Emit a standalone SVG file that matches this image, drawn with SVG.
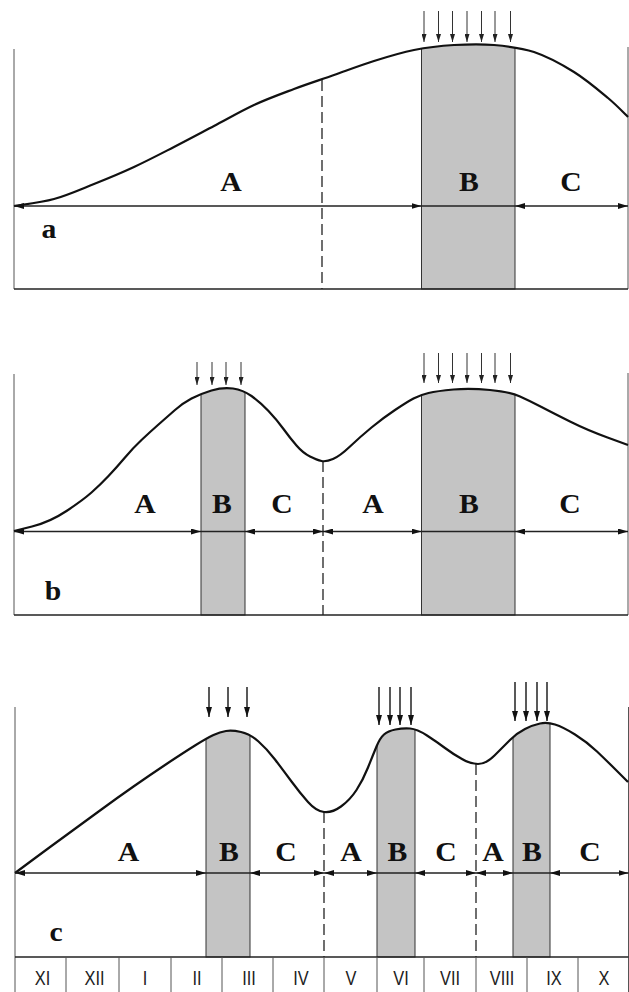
<svg xmlns="http://www.w3.org/2000/svg" width="629" height="992" viewBox="0 0 629 992">
<style>
.curve{fill:none;stroke:#111;stroke-width:2.2}
.frame{stroke:#555;stroke-width:1;fill:none}
.base{stroke:#222;stroke-width:1.5;fill:none}
.band{fill:#c4c4c4;stroke:#333;stroke-width:1}
.dash{stroke:#222;stroke-width:1.3;stroke-dasharray:11 5;fill:none}
.harr{stroke:#222;stroke-width:1.3;fill:none;marker-start:url(#ah);marker-end:url(#ah)}
.hline{stroke:#222;stroke-width:1.3;fill:none}
.darr{stroke:#333;stroke-width:1;fill:none;marker-end:url(#dh)}
.darr2{stroke:#222;stroke-width:1.5;fill:none;marker-end:url(#dh2)}
.lab{font-family:"Liberation Serif","Times New Roman",serif;font-weight:bold;font-size:27px;fill:#111;text-anchor:middle}
.mon{font-family:"Liberation Sans",Arial,sans-serif;font-size:21px;fill:#222;text-anchor:middle}
</style>
<defs>
<marker id="ah" viewBox="0 0 10 6" refX="10" refY="3" markerWidth="10" markerHeight="6" markerUnits="userSpaceOnUse" orient="auto-start-reverse"><path d="M0,0 L10,3 L0,6 Z" fill="#111"/></marker>
<marker id="dh" viewBox="0 0 8 5" refX="8" refY="2.5" markerWidth="8" markerHeight="5" markerUnits="userSpaceOnUse" orient="auto"><path d="M0,0 L8,2.5 L0,5 Z" fill="#222"/></marker>
<marker id="dh2" viewBox="0 0 10 6" refX="10" refY="3" markerWidth="10" markerHeight="6" markerUnits="userSpaceOnUse" orient="auto"><path d="M0,0 L10,3 L0,6 Z" fill="#111"/></marker>
<path id="cA" d="M14,206 C20.7,204.8 40.7,202.7 54,199 C67.3,195.3 80.7,189.3 94,184 C107.3,178.7 120.7,173.2 134,167 C147.3,160.8 160.7,153.8 174,147 C187.3,140.2 200.7,133 214,126 C227.3,119 240.7,111.2 254,105 C267.3,98.8 280.7,94 294,89 C307.3,84 320.7,79.7 334,75 C347.3,70.3 360.7,65.2 374,61 C387.3,56.8 400.7,52.7 414,50 C427.3,47.3 440.7,45.8 454,45 C467.3,44.2 480.7,43.8 494,45 C507.3,46.2 520.7,47.5 534,52 C547.3,56.5 561.7,64.3 574,72 C586.3,79.7 599,90.5 608,98 C617,105.5 624.7,113.8 628,117"/>
<path id="cB" d="M14,531 L32,526.5 Q50,522 66.5,511 Q83,500 91.5,492.5 Q100,485 108.5,476 Q117,467 125,457.5 Q133,448 141.5,440 Q150,432 158.5,424.5 Q167,417 175,410 Q183,403 191.5,398.5 Q200,394 211.5,390.5 Q223,387 233,388.5 Q243,390 251.5,396 Q260,402 268.5,411 Q277,420 283.5,429 Q290,438 296.5,445.5 Q303,453 310,456.5 Q317,460 321.5,461 Q326,462 333,459 Q340,456 350,446.5 Q360,437 371.5,427.5 Q383,418 395,410 Q407,402 413.5,398.5 Q420,395 428.5,393 Q437,391 453.5,389.5 Q470,388 490,390 Q510,392 520,396.5 Q530,401 541.5,407 Q553,413 570,421.5 Q587,430 607.5,437.5 L628,445"/>
<path id="cC" d="M15,873 L32.5,860 Q50,847 66.5,835 Q83,823 100,810.5 Q117,798 133.5,786.5 Q150,775 166.5,764 Q183,753 195,745.5 Q207,738 213.5,735 Q220,732 226,731 Q232,730 241,732 Q250,734 258.5,741.5 Q267,749 275,759.5 Q283,770 291.5,781.5 Q300,793 308,802 Q316,811 324,812 Q332,813 341,806.5 Q350,800 356.5,790 Q363,780 368,767.5 Q373,755 376.5,746.5 Q380,738 384,734.5 Q388,731 395.5,729.5 Q403,728 410,728.5 Q417,729 427,735.5 Q437,742 445,748 Q453,754 462,759 Q470,764 478,764 Q486,764 494.5,755.5 Q503,747 510,740 Q517,733 525,729 Q533,725 540,723.5 Q547,722 555,724.5 Q563,727 575,734.5 Q587,742 597,751.5 Q607,761 617.5,771.5 L628,782"/>
<clipPath id="clipA"><path d="M14,206 C20.7,204.8 40.7,202.7 54,199 C67.3,195.3 80.7,189.3 94,184 C107.3,178.7 120.7,173.2 134,167 C147.3,160.8 160.7,153.8 174,147 C187.3,140.2 200.7,133 214,126 C227.3,119 240.7,111.2 254,105 C267.3,98.8 280.7,94 294,89 C307.3,84 320.7,79.7 334,75 C347.3,70.3 360.7,65.2 374,61 C387.3,56.8 400.7,52.7 414,50 C427.3,47.3 440.7,45.8 454,45 C467.3,44.2 480.7,43.8 494,45 C507.3,46.2 520.7,47.5 534,52 C547.3,56.5 561.7,64.3 574,72 C586.3,79.7 599,90.5 608,98 C617,105.5 624.7,113.8 628,117 L628,300 L14,300 Z"/></clipPath>
<clipPath id="clipB"><path d="M14,531 L32,526.5 Q50,522 66.5,511 Q83,500 91.5,492.5 Q100,485 108.5,476 Q117,467 125,457.5 Q133,448 141.5,440 Q150,432 158.5,424.5 Q167,417 175,410 Q183,403 191.5,398.5 Q200,394 211.5,390.5 Q223,387 233,388.5 Q243,390 251.5,396 Q260,402 268.5,411 Q277,420 283.5,429 Q290,438 296.5,445.5 Q303,453 310,456.5 Q317,460 321.5,461 Q326,462 333,459 Q340,456 350,446.5 Q360,437 371.5,427.5 Q383,418 395,410 Q407,402 413.5,398.5 Q420,395 428.5,393 Q437,391 453.5,389.5 Q470,388 490,390 Q510,392 520,396.5 Q530,401 541.5,407 Q553,413 570,421.5 Q587,430 607.5,437.5 L628,445 L628,620 L14,620 Z"/></clipPath>
<clipPath id="clipC"><path d="M15,873 L32.5,860 Q50,847 66.5,835 Q83,823 100,810.5 Q117,798 133.5,786.5 Q150,775 166.5,764 Q183,753 195,745.5 Q207,738 213.5,735 Q220,732 226,731 Q232,730 241,732 Q250,734 258.5,741.5 Q267,749 275,759.5 Q283,770 291.5,781.5 Q300,793 308,802 Q316,811 324,812 Q332,813 341,806.5 Q350,800 356.5,790 Q363,780 368,767.5 Q373,755 376.5,746.5 Q380,738 384,734.5 Q388,731 395.5,729.5 Q403,728 410,728.5 Q417,729 427,735.5 Q437,742 445,748 Q453,754 462,759 Q470,764 478,764 Q486,764 494.5,755.5 Q503,747 510,740 Q517,733 525,729 Q533,725 540,723.5 Q547,722 555,724.5 Q563,727 575,734.5 Q587,742 597,751.5 Q607,761 617.5,771.5 L628,782 L628,960 L15,960 Z"/></clipPath>
</defs>

<g id="panel-a">
<g clip-path="url(#clipA)"><rect class="band" x="421.5" y="30" width="93.5" height="259"/></g>
<line class="frame" x1="14" y1="49" x2="14" y2="289"/>
<line class="frame" x1="628" y1="47" x2="628" y2="289"/>
<line class="base" x1="14" y1="289" x2="628" y2="289"/>
<line class="dash" x1="322" y1="80" x2="322" y2="289"/>
<use href="#cA" class="curve"/>
<text class="lab" transform="translate(231,191) scale(1.1,1)">A</text>
<text class="lab" transform="translate(469,191) scale(1.1,1)">B</text>
<text class="lab" transform="translate(571,191) scale(1.1,1)">C</text>
<text class="lab" transform="translate(49,238) scale(1.1,1)">a</text>
</g>

<g id="panel-b">
<g clip-path="url(#clipB)"><rect class="band" x="201" y="370" width="44" height="245"/><rect class="band" x="421.5" y="370" width="93.5" height="245"/></g>
<line class="frame" x1="14" y1="374" x2="14" y2="615"/>
<line class="frame" x1="628" y1="373" x2="628" y2="615"/>
<line class="base" x1="14" y1="615" x2="628" y2="615"/>
<line class="dash" x1="323" y1="461" x2="323" y2="615"/>
<use href="#cB" class="curve"/>
<text class="lab" transform="translate(145,513) scale(1.1,1)">A</text>
<text class="lab" transform="translate(222,513) scale(1.1,1)">B</text>
<text class="lab" transform="translate(282,513) scale(1.1,1)">C</text>
<text class="lab" transform="translate(373,513) scale(1.1,1)">A</text>
<text class="lab" transform="translate(469,513) scale(1.1,1)">B</text>
<text class="lab" transform="translate(570,513) scale(1.1,1)">C</text>
<text class="lab" transform="translate(53,600) scale(1.1,1)">b</text>
</g>

<g id="panel-c">
<g clip-path="url(#clipC)"><rect class="band" x="206" y="700" width="44" height="257"/><rect class="band" x="377" y="700" width="38" height="257"/><rect class="band" x="513" y="700" width="37" height="257"/></g>
<line class="frame" x1="15" y1="707" x2="15" y2="992"/>
<line class="frame" x1="628.5" y1="707" x2="628.5" y2="992"/>
<line class="base" x1="15" y1="957" x2="628.5" y2="957"/>
<line class="dash" x1="324" y1="812" x2="324" y2="957"/>
<line class="dash" x1="476" y1="764" x2="476" y2="957"/>
<use href="#cC" class="curve"/>
<text class="lab" transform="translate(128.5,861) scale(1.1,1)">A</text>
<text class="lab" transform="translate(229,861) scale(1.1,1)">B</text>
<text class="lab" transform="translate(286,861) scale(1.1,1)">C</text>
<text class="lab" transform="translate(351,861) scale(1.1,1)">A</text>
<text class="lab" transform="translate(397.5,861) scale(1.1,1)">B</text>
<text class="lab" transform="translate(446,861) scale(1.1,1)">C</text>
<text class="lab" transform="translate(493,861) scale(1.1,1)">A</text>
<text class="lab" transform="translate(532,861) scale(1.1,1)">B</text>
<text class="lab" transform="translate(590,861) scale(1.1,1)">C</text>
<text class="lab" transform="translate(56,941) scale(1.1,1)">c</text>
</g>

<g id="months">
<g class="frame" stroke="#444">
<line x1="66" y1="957" x2="66" y2="992"/>
<line x1="119" y1="957" x2="119" y2="992"/>
<line x1="171" y1="957" x2="171" y2="992"/>
<line x1="222" y1="957" x2="222" y2="992"/>
<line x1="273" y1="957" x2="273" y2="992"/>
<line x1="324" y1="957" x2="324" y2="992"/>
<line x1="377" y1="957" x2="377" y2="992"/>
<line x1="424" y1="957" x2="424" y2="992"/>
<line x1="476" y1="957" x2="476" y2="992"/>
<line x1="527" y1="957" x2="527" y2="992"/>
<line x1="578" y1="957" x2="578" y2="992"/>
</g>
<text class="mon" transform="translate(42.5,985) scale(0.78,1)">XI</text>
<text class="mon" transform="translate(94.5,985) scale(0.78,1)">XII</text>
<text class="mon" transform="translate(145,985) scale(0.78,1)">I</text>
<text class="mon" transform="translate(197,985) scale(0.78,1)">II</text>
<text class="mon" transform="translate(249,985) scale(0.78,1)">III</text>
<text class="mon" transform="translate(301,985) scale(0.78,1)">IV</text>
<text class="mon" transform="translate(351,985) scale(0.78,1)">V</text>
<text class="mon" transform="translate(401,985) scale(0.78,1)">VI</text>
<text class="mon" transform="translate(450,985) scale(0.78,1)">VII</text>
<text class="mon" transform="translate(502,985) scale(0.78,1)">VIII</text>
<text class="mon" transform="translate(554,985) scale(0.78,1)">IX</text>
<text class="mon" transform="translate(604,985) scale(0.78,1)">X</text>
</g>

<g id="connectors">
<line class="harr" x1="14" y1="206" x2="421.5" y2="206"/>
<line class="hline" x1="421.5" y1="206" x2="515" y2="206"/>
<line class="harr" x1="515" y1="206" x2="628" y2="206"/>
<line class="darr" x1="424" y1="11" x2="424" y2="42"/>
<line class="darr" x1="438.5" y1="11" x2="438.5" y2="42"/>
<line class="darr" x1="452.5" y1="11" x2="452.5" y2="42"/>
<line class="darr" x1="467" y1="11" x2="467" y2="42"/>
<line class="darr" x1="481.5" y1="11" x2="481.5" y2="42"/>
<line class="darr" x1="495" y1="11" x2="495" y2="42"/>
<line class="darr" x1="510.5" y1="11" x2="510.5" y2="42"/>

<line class="harr" x1="14" y1="531.5" x2="201" y2="531.5"/>
<line class="hline" x1="201" y1="531.5" x2="245" y2="531.5"/>
<line class="harr" x1="245" y1="531.5" x2="323" y2="531.5"/>
<line class="harr" x1="323" y1="531.5" x2="421.5" y2="531.5"/>
<line class="hline" x1="421.5" y1="531.5" x2="515" y2="531.5"/>
<line class="harr" x1="515" y1="531.5" x2="628" y2="531.5"/>
<line class="darr" x1="197" y1="362" x2="197" y2="385"/>
<line class="darr" x1="212" y1="362" x2="212" y2="385"/>
<line class="darr" x1="226" y1="362" x2="226" y2="385"/>
<line class="darr" x1="241" y1="362" x2="241" y2="385"/>
<line class="darr" x1="424" y1="353" x2="424" y2="383"/>
<line class="darr" x1="438.5" y1="353" x2="438.5" y2="383"/>
<line class="darr" x1="452.5" y1="353" x2="452.5" y2="383"/>
<line class="darr" x1="467" y1="353" x2="467" y2="383"/>
<line class="darr" x1="481.5" y1="353" x2="481.5" y2="383"/>
<line class="darr" x1="495" y1="353" x2="495" y2="383"/>
<line class="darr" x1="510.5" y1="353" x2="510.5" y2="383"/>

<line class="harr" x1="15" y1="873" x2="206" y2="873"/>
<line class="hline" x1="206" y1="873" x2="250" y2="873"/>
<line class="harr" x1="250" y1="873" x2="324" y2="873"/>
<line class="harr" x1="324" y1="873" x2="377" y2="873"/>
<line class="hline" x1="377" y1="873" x2="415" y2="873"/>
<line class="harr" x1="415" y1="873" x2="476" y2="873"/>
<line class="harr" x1="476" y1="873" x2="513" y2="873"/>
<line class="hline" x1="513" y1="873" x2="550" y2="873"/>
<line class="harr" x1="550" y1="873" x2="628.5" y2="873"/>
<line class="darr2" x1="209" y1="687" x2="209" y2="717"/>
<line class="darr2" x1="228" y1="687" x2="228" y2="717"/>
<line class="darr2" x1="247" y1="687" x2="247" y2="717"/>
<line class="darr2" x1="379" y1="687" x2="379" y2="725"/>
<line class="darr2" x1="390" y1="687" x2="390" y2="725"/>
<line class="darr2" x1="400" y1="687" x2="400" y2="725"/>
<line class="darr2" x1="411" y1="687" x2="411" y2="725"/>
<line class="darr2" x1="515" y1="682" x2="515" y2="721"/>
<line class="darr2" x1="526" y1="682" x2="526" y2="721"/>
<line class="darr2" x1="537" y1="682" x2="537" y2="721"/>
<line class="darr2" x1="547" y1="682" x2="547" y2="721"/>
</g>
</svg>
